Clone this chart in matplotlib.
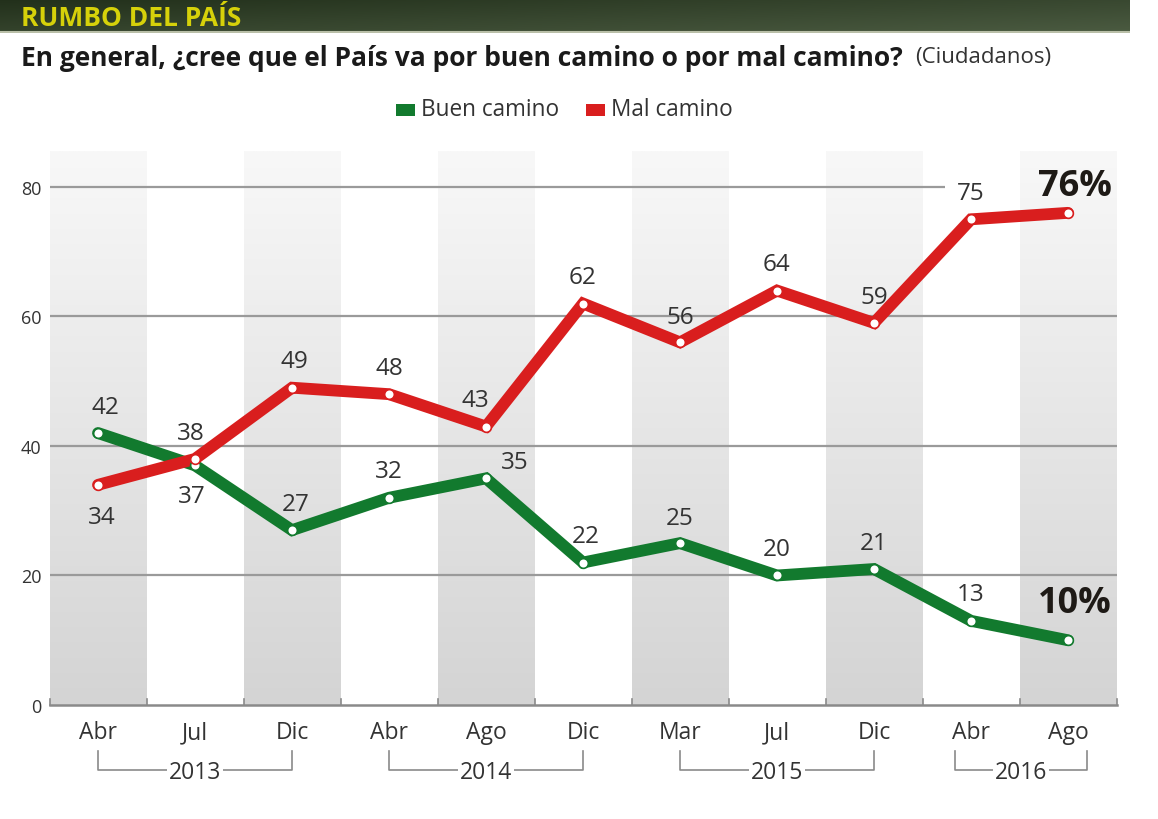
import numpy as np
import matplotlib
matplotlib.use("Agg")
import matplotlib.pyplot as plt
from matplotlib.transforms import blended_transform_factory
from matplotlib.colors import LinearSegmentedColormap

plt.rcParams['font.family'] = ['Open Sans', 'DejaVu Sans']

months = ["Abr", "Jul", "Dic", "Abr", "Ago", "Dic", "Mar", "Jul", "Dic", "Abr", "Ago"]
years = ["2013", "2014", "2015", "2016"]
year_spans = [(0, 2), (3, 5), (6, 8), (8.83, 10.2)]
buen = [42, 37, 27, 32, 35, 22, 25, 20, 21, 13, 10]
mal = [34, 38, 49, 48, 43, 62, 56, 64, 59, 75, 76]
yticks = [0, 20, 40, 60, 80]

GREEN = "#127a2e"
RED = "#d91e1e"
TXT = "#333333"

W, H = 1158, 820
fig = plt.figure(figsize=(W / 100, H / 100), dpi=100)
fig.patch.set_facecolor("white")

def px(x, y):
    return x / W, 1 - y / H

# header bar
hax = fig.add_axes([0, 1 - 34 / H, 1130 / W, 34 / H])
hax.set_axis_off()
gx = np.linspace(0, 1, 256)
gy = np.linspace(0, 1, 32)[:, None]
hcm = LinearSegmentedColormap.from_list("h", ["#22301b", "#4b5b41"])
hax.imshow(0.55 * gx[None, :] + 0.45 * gy * np.ones_like(gx)[None, :], aspect="auto", cmap=hcm,
           extent=[0, 1, 0, 1], origin="upper")
hax.set_xlim(0, 1)
hax.set_ylim(0, 1)
hax.axhline(0.03, color="#b9bfa8", lw=1.5)
fig.text(*px(21, 18), "RUMBO DEL PAÍS", color="#d6d10a", fontsize=19, fontweight="bold", va="center", ha="left")

# subtitle
t = fig.text(*px(21, 58), "En general, ¿cree que el País va por buen camino o por mal camino?",
             color="#1a1a1a", fontsize=19, fontweight="bold", va="center", ha="left")
fig.canvas.draw()
bb = t.get_window_extent()
fig.text(bb.x1 / W + 12 / W, 1 - 58 / H, "(Ciudadanos)", color=TXT, fontsize=16, va="center", ha="left")

# legend
for (x0, col, lab) in [(396, GREEN, "Buen camino"), (586, RED, "Mal camino")]:
    fig.patches.append(plt.Rectangle(px(x0, 117), 19 / W, 12 / H, transform=fig.transFigure,
                                     facecolor=col, edgecolor="none"))
    fig.text(*px(x0 + 25, 110), lab, color=TXT, fontsize=16.3, va="center", ha="left")

# main axes
left, right, top, bottom = 49.5, 1116.5, 152, 706
ax = fig.add_axes([left / W, 1 - bottom / H, (right - left) / W, (bottom - top) / H])
n = len(months)
ytop = 85.55
ax.set_xlim(-0.5, n - 0.5)
ax.set_ylim(0, ytop)

bcm = LinearSegmentedColormap.from_list("b", ["#f8f8f8", "#d4d4d4"])
grad = np.linspace(0, 1, 256)[:, None]
for i in range(0, n, 2):
    ax.imshow(grad, aspect="auto", cmap=bcm, extent=[i - 0.5, i + 0.5, 0, ytop], origin="upper", zorder=0)

for yv in yticks[1:]:
    xmax = 8.73 if yv == 80 else n - 0.5
    ax.plot([-0.5, xmax], [yv, yv], color="#9a9a9a", lw=1.6, zorder=1, solid_capstyle="butt")

ax.plot([-0.5, n - 0.5], [0, 0], color="#8a8a8a", lw=1.8, zorder=2, clip_on=False)
for b in np.arange(-0.5, n, 1.0):
    ax.plot([b, b], [0, 0.9], color="#8a8a8a", lw=1.2, zorder=2, clip_on=False)

for spine in ax.spines.values():
    spine.set_visible(False)
ax.set_xticks([])
ax.set_yticks(yticks)
ax.set_yticklabels([str(v) for v in yticks], fontsize=13, color=TXT)
ax.tick_params(axis="y", length=0, pad=6)

x = np.arange(n)
for vals, col in [(buen, GREEN), (mal, RED)]:
    ax.plot(x, vals, color=col, lw=8.5, zorder=3, solid_joinstyle="miter", solid_capstyle="round")
    ax.plot(x, vals, linestyle="none", marker="o", ms=7, mfc="white", mec=col, mew=1.2, zorder=4)

# value labels
b_off = [(5, 19), (-2, -22), (3, 19), (0, 19), (21, 12), (2, 19), (0, 18), (0, 19), (0, 19), (0, 19), (0, 0)]
m_off = [(3, -23), (-3, 19), (2, 19), (0, 19), (-8, 19), (0, 19), (0, 18), (0, 19), (0, 19), (0, 19), (0, 0)]
for i in range(n - 1):
    ax.annotate(str(buen[i]), (x[i], buen[i]), xytext=b_off[i], textcoords="offset points",
                ha="center", va="center", fontsize=17.5, color=TXT, zorder=5)
    ax.annotate(str(mal[i]), (x[i], mal[i]), xytext=m_off[i], textcoords="offset points",
                ha="center", va="center", fontsize=17.5, color=TXT, zorder=5)
ax.annotate(f"{buen[-1]}%", (x[-1], buen[-1]), xytext=(5, 27), textcoords="offset points",
            ha="center", va="center", fontsize=26, fontweight="bold", color="#1e1a16", zorder=5)
ax.annotate(f"{mal[-1]}%", (x[-1], mal[-1]), xytext=(5, 19), textcoords="offset points",
            ha="center", va="center", fontsize=26, fontweight="bold", color="#1e1a16", zorder=5)

# month labels and year brackets
tr = blended_transform_factory(ax.transData, fig.transFigure)
for i, m in enumerate(months):
    ax.text(i, 1 - 733 / H, m, transform=tr, ha="center", va="center", fontsize=16.5, color=TXT)
for yr, (a, b) in zip(years, year_spans):
    yv, yh = 1 - 752 / H, 1 - 771 / H
    ax.plot([a, a, b, b], [yv, yh, yh, yv], transform=tr, color="#8a8a8a", lw=1.2, clip_on=False)
    ax.text((a + b) / 2, 1 - 773 / H, yr, transform=tr, ha="center", va="center", fontsize=16.5, color=TXT,
            bbox=dict(facecolor="white", edgecolor="none", pad=1.5))

fig.savefig("out.png", dpi=100, facecolor="white")
